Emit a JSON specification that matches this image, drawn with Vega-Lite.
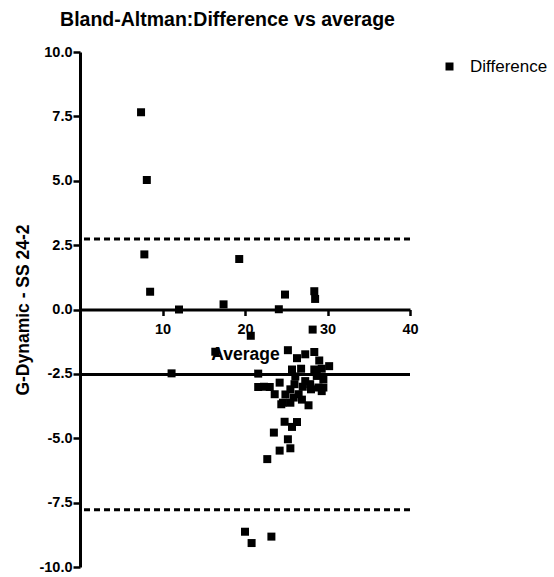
{
  "$schema": "https://vega.github.io/schema/vega-lite/v6.json",
  "width": 330,
  "height": 515,
  "autosize": {"type": "none"},
  "padding": {"left": 80, "top": 52, "right": 144, "bottom": 10},
  "title": {
    "text": "Bland-Altman:Difference vs average",
    "font": "Liberation Sans",
    "fontSize": 19.5,
    "fontWeight": "bold",
    "color": "black",
    "anchor": "middle",
    "frame": "group",
    "dx": -17.5,
    "offset": 14
  },
  "config": {"view": {"stroke": null}, "font": "Liberation Sans", "title": {"offset": 14}},
  "datasets": {
    "points": [
      {"average": 7.4, "difference": 7.66, "series": "Difference"},
      {"average": 8.1, "difference": 5.03, "series": "Difference"},
      {"average": 7.8, "difference": 2.14, "series": "Difference"},
      {"average": 8.5, "difference": 0.69, "series": "Difference"},
      {"average": 12.0, "difference": 0.0, "series": "Difference"},
      {"average": 17.4, "difference": 0.2, "series": "Difference"},
      {"average": 19.3, "difference": 1.96, "series": "Difference"},
      {"average": 20.7, "difference": -1.02, "series": "Difference"},
      {"average": 11.1, "difference": -2.48, "series": "Difference"},
      {"average": 16.4, "difference": -1.64, "series": "Difference"},
      {"average": 24.85, "difference": 0.58, "series": "Difference"},
      {"average": 24.1, "difference": 0.01, "series": "Difference"},
      {"average": 28.4, "difference": 0.71, "series": "Difference"},
      {"average": 28.5, "difference": 0.41, "series": "Difference"},
      {"average": 28.2, "difference": -0.78, "series": "Difference"},
      {"average": 25.2, "difference": -1.58, "series": "Difference"},
      {"average": 26.3, "difference": -1.89, "series": "Difference"},
      {"average": 27.3, "difference": -1.74, "series": "Difference"},
      {"average": 28.4, "difference": -1.65, "series": "Difference"},
      {"average": 29.0, "difference": -1.98, "series": "Difference"},
      {"average": 25.7, "difference": -2.33, "series": "Difference"},
      {"average": 26.8, "difference": -2.3, "series": "Difference"},
      {"average": 28.4, "difference": -2.33, "series": "Difference"},
      {"average": 29.3, "difference": -2.3, "series": "Difference"},
      {"average": 30.2, "difference": -2.2, "series": "Difference"},
      {"average": 21.6, "difference": -2.49, "series": "Difference"},
      {"average": 28.7, "difference": -2.58, "series": "Difference"},
      {"average": 29.5, "difference": -2.71, "series": "Difference"},
      {"average": 21.6, "difference": -3.01, "series": "Difference"},
      {"average": 23.0, "difference": -3.01, "series": "Difference"},
      {"average": 24.2, "difference": -2.84, "series": "Difference"},
      {"average": 25.5, "difference": -3.1, "series": "Difference"},
      {"average": 27.3, "difference": -2.78, "series": "Difference"},
      {"average": 28.9, "difference": -3.03, "series": "Difference"},
      {"average": 29.5, "difference": -3.03, "series": "Difference"},
      {"average": 23.6, "difference": -3.29, "series": "Difference"},
      {"average": 24.6, "difference": -3.62, "series": "Difference"},
      {"average": 25.9, "difference": -3.42, "series": "Difference"},
      {"average": 26.5, "difference": -3.29, "series": "Difference"},
      {"average": 27.7, "difference": -3.72, "series": "Difference"},
      {"average": 24.4, "difference": -3.68, "series": "Difference"},
      {"average": 25.5, "difference": -3.62, "series": "Difference"},
      {"average": 29.3, "difference": -3.17, "series": "Difference"},
      {"average": 26.0, "difference": -2.9, "series": "Difference"},
      {"average": 27.0, "difference": -3.0, "series": "Difference"},
      {"average": 26.9, "difference": -3.5, "series": "Difference"},
      {"average": 24.9, "difference": -3.3, "series": "Difference"},
      {"average": 27.9, "difference": -2.9, "series": "Difference"},
      {"average": 22.3, "difference": -3.0, "series": "Difference"},
      {"average": 28.0, "difference": -3.1, "series": "Difference"},
      {"average": 26.1, "difference": -2.6, "series": "Difference"},
      {"average": 24.8, "difference": -4.36, "series": "Difference"},
      {"average": 26.3, "difference": -4.37, "series": "Difference"},
      {"average": 25.7, "difference": -4.56, "series": "Difference"},
      {"average": 23.5, "difference": -4.78, "series": "Difference"},
      {"average": 25.2, "difference": -5.04, "series": "Difference"},
      {"average": 25.5, "difference": -5.39, "series": "Difference"},
      {"average": 24.2, "difference": -5.48, "series": "Difference"},
      {"average": 22.7, "difference": -5.81, "series": "Difference"},
      {"average": 20.0, "difference": -8.63, "series": "Difference"},
      {"average": 20.8, "difference": -9.07, "series": "Difference"},
      {"average": 23.2, "difference": -8.82, "series": "Difference"}
    ],
    "limits": [
      {"value": 2.74, "kind": "limit"},
      {"value": -2.52, "kind": "mean"},
      {"value": -7.78, "kind": "limit"}
    ]
  },
  "layer": [
    {
      "data": {"name": "limits"},
      "mark": {"type": "rule", "strokeWidth": 3, "color": "black"},
      "encoding": {
        "y": {"field": "value", "type": "quantitative", "scale": {"domain": [-10, 10], "nice": false}},
        "strokeDash": {
          "field": "kind",
          "type": "nominal",
          "scale": {"domain": ["mean", "limit"], "range": [[1, 0], [6, 4]]},
          "legend": null
        }
      }
    },
    {
      "data": {"name": "points"},
      "mark": {"type": "point", "shape": "square", "filled": true, "size": 64, "opacity": 1, "strokeWidth": 0},
      "encoding": {
        "x": {
          "field": "average",
          "type": "quantitative",
          "scale": {"domain": [0, 40], "nice": false},
          "axis": {
            "values": [10, 20, 30, 40],
            "format": "d",
            "offset": -257.5,
            "title": "Average",
            "grid": false,
            "domainColor": "black",
            "domainWidth": 3,
            "tickColor": "black",
            "tickWidth": 2.5,
            "tickSize": 6,
            "labelPadding": 7,
            "labelFont": "Liberation Sans",
            "labelFontSize": 14.5,
            "labelFontWeight": "bold",
            "labelColor": "black",
            "labelFlush": false,
            "titleFont": "Liberation Sans",
            "titleFontSize": 17.5,
            "titleFontWeight": "bold",
            "titleColor": "black",
            "titleX": 165,
            "titleY": 35.5
          }
        },
        "y": {
          "field": "difference",
          "type": "quantitative",
          "scale": {"domain": [-10, 10], "nice": false},
          "axis": {
            "values": [-10, -7.5, -5, -2.5, 0, 2.5, 5, 7.5, 10],
            "labelExpr": "datum.value < 0 ? '-' + format(-datum.value, '.1f') : format(datum.value, '.1f')",
            "title": "G-Dynamic - SS 24-2",
            "grid": false,
            "domainColor": "black",
            "domainWidth": 3,
            "tickColor": "black",
            "tickWidth": 2.5,
            "tickSize": 7,
            "labelPadding": 1,
            "labelFont": "Liberation Sans",
            "labelFontSize": 14.5,
            "labelFontWeight": "bold",
            "labelColor": "black",
            "labelFlush": false,
            "labelOverlap": false,
            "titleFont": "Liberation Sans",
            "titleFontSize": 17.5,
            "titleFontWeight": "bold",
            "titleColor": "black",
            "titleX": -48,
            "titleY": 257.5
          }
        },
        "color": {
          "field": "series",
          "type": "nominal",
          "scale": {"range": ["black"]},
          "legend": {
            "title": null,
            "orient": "none",
            "legendX": 361,
            "legendY": 6,
            "padding": 0,
            "symbolType": "square",
            "symbolSize": 64,
            "symbolStrokeWidth": 0,
            "labelFont": "Liberation Sans",
            "labelFontSize": 17,
            "labelColor": "black",
            "labelOffset": 12
          }
        }
      }
    }
  ]
}
